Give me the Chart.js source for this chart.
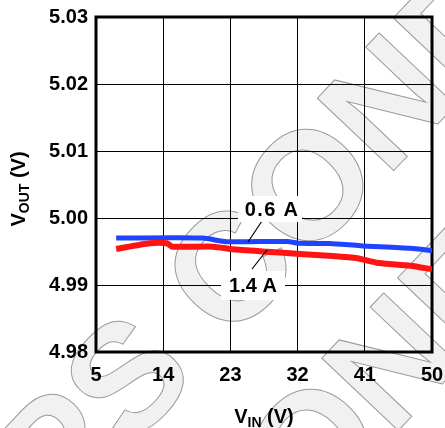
<!DOCTYPE html>
<html>
<head>
<meta charset="utf-8">
<script src="https://cdn.jsdelivr.net/npm/chart.js@4/dist/chart.umd.min.js"></script>
<style>
  html, body { margin: 0; padding: 0; background: #fff; }
  #wrap { width: 445px; height: 428px; position: relative; }
</style>
</head>
<body>
<div id="wrap"><canvas id="graficoVout"></canvas></div>
<script>
  // datos
  var vin06 = [7.7, 19.3, 22.5, 30.6, 32.3, 36.3, 40.4, 47.1, 50];
  var vout06 = [4.9970, 4.9970, 4.99646, 4.9965, 4.99622, 4.9962, 4.99587, 4.99548, 4.99512];
  var vin14 = [7.7, 12.2, 14.5, 15.2, 20.7, 23.4, 27.9, 32.3, 36.7, 40.0, 42.6, 47.1, 50];
  var vout14 = [4.99537, 4.99622, 4.99622, 4.99572, 4.99572, 4.99533, 4.99497, 4.99463, 4.99433, 4.9940, 4.99333, 4.99288, 4.99234];
  var xTicks = [5, 14, 23, 32, 41, 50];
  var yTicks = [4.98, 4.99, 5.00, 5.01, 5.02, 5.03];
  var etiquetas = ['0.6 A', '1.4 A'];
  var marca = 'PS CONFIDENTIAL';

  function puntos(xs, ys) {
    return xs.map(function(x, i) { return { x: x, y: ys[i] }; });
  }

  var FUENTE = '"Liberation Sans", Arial, sans-serif';

  // marca de agua de fondo
  var pluginMarca = {
    id: 'marca',
    beforeDraw: function(chart) {
      var ctx = chart.ctx;
      var F = 153;
      ctx.save();
      ctx.font = 'bold ' + F + 'px ' + FUENTE;
      var wp = ctx.measureText('P').width;
      var ws = ctx.measureText('S').width;
      ctx.translate(125, 375);
      ctx.rotate(-46.6 * Math.PI / 180);
      var x0 = -(wp + ws / 2);
      var y0 = 0.716 * F / 2;
      ctx.fillStyle = '#f1f1f1';
      ctx.strokeStyle = '#9a9a9a';
      ctx.lineWidth = 1;
      ctx.fillText(marca, x0, y0);
      ctx.strokeText(marca, x0, y0);
      // segunda linea
      ctx.fillText(marca, x0 - 186, y0 + 182);
      ctx.strokeText(marca, x0 - 186, y0 + 182);
      ctx.restore();
    }
  };

  // marco, etiquetas y titulos con subindice
  var pluginExtras = {
    id: 'extras',
    beforeDatasetsDraw: function(chart) {
      var ctx = chart.ctx, a = chart.chartArea;
      ctx.save();
      ctx.strokeStyle = '#000';
      ctx.lineWidth = 3;
      ctx.strokeRect(a.left, a.top, a.right - a.left, a.bottom - a.top);
      ctx.restore();
    },
    afterDatasetsDraw: function(chart) {
      var ctx = chart.ctx;
      ctx.save();
      // lineas guia
      ctx.strokeStyle = '#000';
      ctx.lineWidth = 1.2;
      ctx.beginPath();
      ctx.moveTo(262, 221); ctx.lineTo(248, 242);
      ctx.moveTo(267, 250); ctx.lineTo(252, 269);
      ctx.stroke();
      // cajas de etiquetas
      ctx.font = 'bold 20px ' + FUENTE;
      ctx.textAlign = 'center';
      ctx.textBaseline = 'alphabetic';
      var cajas = [[272, 216, 238, 196, 64, 26, '1.3px'], [253, 292, 221, 271, 64, 29, '0px']];
      cajas.forEach(function(c, i) {
        ctx.fillStyle = '#fff';
        ctx.fillRect(c[2], c[3], c[4], c[5]);
        ctx.fillStyle = '#000';
        ctx.letterSpacing = c[6];
        ctx.fillText(etiquetas[i], c[0], c[1]);
      });
      ctx.letterSpacing = '0px';
      // titulos de ejes
      function titulo(base, sub, resto) {
        ctx.font = 'bold 20px ' + FUENTE;
        var w1 = ctx.measureText(base).width;
        var w3 = ctx.measureText(resto).width;
        ctx.font = 'bold 14px ' + FUENTE;
        var w2 = ctx.measureText(sub).width;
        var x = -(w1 + w2 + w3) / 2;
        ctx.textAlign = 'left';
        ctx.font = 'bold 20px ' + FUENTE;
        ctx.fillText(base, x, 0);
        ctx.font = 'bold 14px ' + FUENTE;
        ctx.fillText(sub, x + w1, 4);
        ctx.font = 'bold 20px ' + FUENTE;
        ctx.fillText(resto, x + w1 + w2, 0);
      }
      ctx.fillStyle = '#000';
      ctx.save();
      ctx.translate(264, 423);
      titulo('V', 'IN', ' (V)');
      ctx.restore();
      ctx.save();
      ctx.translate(25, 189);
      ctx.rotate(-Math.PI / 2);
      titulo('V', 'OUT', ' (V)');
      ctx.restore();
      ctx.restore();
    }
  };

  var ctxV = document.getElementById('graficoVout').getContext('2d');
  var grafico = new Chart(ctxV, {
    type: 'line',
    data: {
      datasets: [
        {
          label: '1.4 A',
          data: puntos(vin14, vout14),
          borderColor: '#ff1414',
          borderWidth: 6,
          pointRadius: 0,
          tension: 0.2,
          fill: false
        },
        {
          label: '0.6 A',
          data: puntos(vin06, vout06),
          borderColor: '#1f44ff',
          borderWidth: 5,
          pointRadius: 0,
          tension: 0.2,
          fill: false
        }
      ]
    },
    options: {
      responsive: true,
      maintainAspectRatio: false,
      animation: false,
      layout: { padding: { left: 0, top: 17, right: 13, bottom: 0 } },
      plugins: { legend: { display: false }, tooltip: { enabled: false } },
      scales: {
        x: {
          type: 'linear',
          min: 5, max: 50,
          afterBuildTicks: function(s) { s.ticks = xTicks.map(function(v) { return { value: v }; }); },
          afterFit: function(s) { s.height = 76; s.paddingLeft = 0; s.paddingRight = 0; },
          grid: { color: '#000', lineWidth: 1, drawTicks: false },
          border: { display: false },
          ticks: { color: '#000', font: { family: FUENTE, size: 20, weight: 'bold' }, padding: 11, maxRotation: 0 }
        },
        y: {
          min: 4.98, max: 5.03,
          afterBuildTicks: function(s) { s.ticks = yTicks.map(function(v) { return { value: v }; }); },
          afterFit: function(s) { s.width = 96; s.paddingTop = 0; s.paddingBottom = 0; },
          grid: { color: '#000', lineWidth: 1, drawTicks: false },
          border: { display: false },
          ticks: {
            color: '#000', font: { family: FUENTE, size: 20, weight: 'bold' }, padding: 8,
            callback: function(v) { return v.toFixed(2); }
          }
        }
      }
    },
    plugins: [pluginMarca, pluginExtras]
  });
</script>
</body>
</html>
